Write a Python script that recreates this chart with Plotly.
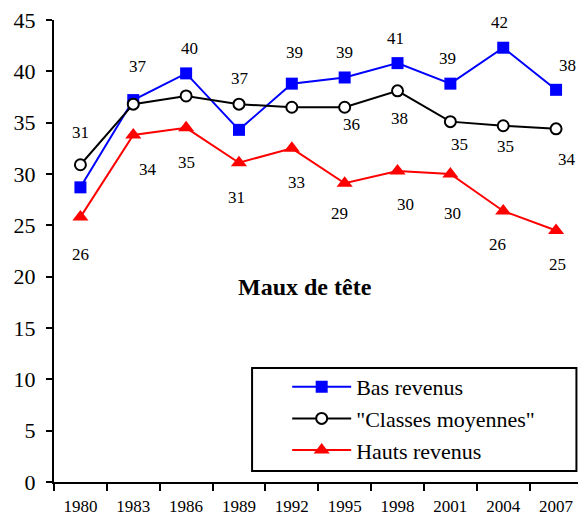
import plotly.graph_objects as go

years = ["1980", "1983", "1986", "1989", "1992", "1995", "1998", "2001", "2004", "2007"]
bas = [28.7, 37.2, 39.8, 34.3, 38.8, 39.4, 40.8, 38.8, 42.3, 38.2]
classes = [30.9, 36.8, 37.6, 36.8, 36.5, 36.5, 38.1, 35.1, 34.7, 34.4]
hauts = [25.8, 33.8, 34.5, 31.1, 32.5, 29.1, 30.3, 30.0, 26.4, 24.5]

bas_labels = [None, "37", "40", None, "39", "39", "41", "39", "42", "38"]
classes_labels = ["31", None, None, "37", None, "36", "38", "35", "35", "34"]
hauts_labels = ["26", "34", "35", "31", "33", "29", "30", "30", "26", "25"]

# label offsets in pixels (dx, dy upward)
bas_off = [None, (5, 34), (3, 25), None, (3, 31), (0, 25), (-2, 25), (-3, 25), (-4, 25), (11, 24)]
classes_off = [(0, 32), None, None, (1, 26), None, (7, -17), (2, -28), (9, -23), (2, -21), (11, -31)]
hauts_off = [(0, -37), (15, -35), (0, -35), (-2, -35), (5, -34), (-5, -30), (8, -34), (2, -39), (-6, -34), (1, -34)]

FONT = "Liberation Serif"

fig = go.Figure()
fig.add_trace(go.Scatter(x=years, y=bas, name="Bas revenus", mode="lines+markers",
                         line=dict(color="#0000FF", width=2),
                         marker=dict(symbol="square", size=12, color="#0000FF")))
fig.add_trace(go.Scatter(x=years, y=classes, name="\"Classes moyennes\"", mode="lines+markers",
                         line=dict(color="#000000", width=2),
                         marker=dict(symbol="circle", size=11, color="#FFFFFF",
                                     line=dict(color="#000000", width=2))))
fig.add_trace(go.Scatter(x=years, y=hauts, name="Hauts revenus", mode="lines+markers",
                         line=dict(color="#FF0000", width=2),
                         marker=dict(symbol="triangle-up", size=14, color="#FF0000")))

annotations = []
for vals, labs, offs in [(bas, bas_labels, bas_off), (classes, classes_labels, classes_off),
                         (hauts, hauts_labels, hauts_off)]:
    for i, (v, lab, off) in enumerate(zip(vals, labs, offs)):
        if lab is None:
            continue
        annotations.append(dict(x=i, y=v, xref="x", yref="y", text=lab, showarrow=False,
                                xshift=off[0], yshift=off[1],
                                font=dict(family=FONT, size=17, color="black")))

annotations.append(dict(x=0.479, y=0.422, xref="paper", yref="paper", text="<b>Maux de tête</b>",
                        showarrow=False, font=dict(family=FONT, size=24, color="black")))

fig.update_layout(
    width=578, height=519,
    margin=dict(l=54, r=0, t=20, b=37, autoexpand=False),
    paper_bgcolor="white", plot_bgcolor="white",
    font=dict(family=FONT, color="black"),
    showlegend=True,
    legend=dict(x=0.445, y=0.251, xanchor="left", yanchor="top",
                borderwidth=0, bgcolor="rgba(0,0,0,0)",
                font=dict(family=FONT, size=22, color="black"),
                itemwidth=59, traceorder="normal"),
    shapes=[dict(type="rect", xref="paper", yref="paper",
                 x0=0.378, x1=0.997, y0=0.024, y1=0.247,
                 line=dict(color="black", width=2), fillcolor="white", layer="above")],
    annotations=annotations,
)
fig.update_xaxes(type="category", range=[-0.5, 9.415], tickson="boundaries",
                 automargin=False,
                 showline=True, linecolor="black", linewidth=2,
                 ticks="outside", ticklen=7, tickwidth=2, tickcolor="black",
                 showgrid=False, zeroline=False,
                 tickfont=dict(family=FONT, size=17, color="black"),
                 ticklabelstandoff=8)
fig.update_yaxes(range=[0, 45], tickvals=[0, 5, 10, 15, 20, 25, 30, 35, 40, 45],
                 automargin=False, ticklabeloverflow="allow",
                 showline=True, linecolor="black", linewidth=2,
                 ticks="outside", ticklen=6, tickwidth=2, tickcolor="black",
                 showgrid=False, zeroline=False,
                 tickfont=dict(family=FONT, size=22, color="black"),
                 ticklabelstandoff=6)

fig.write_html("out.html", config={"displayModeBar": False},
               post_script="document.body.style.margin='0';document.body.style.overflow='hidden';")
